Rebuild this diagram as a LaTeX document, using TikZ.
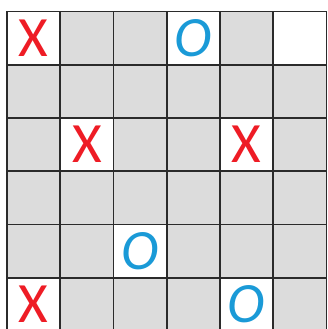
\documentclass[tikz,border=0pt]{standalone}
\usepackage{fontspec}
\newfontfamily\glyphfont{Carlito}
\definecolor{cellgray}{HTML}{DCDCDC}
\definecolor{xred}{HTML}{EE1C25}
\definecolor{oblue}{HTML}{1A9AD7}
\definecolor{gridline}{HTML}{2B2B2B}
\tikzset{
  cell/.style={draw=gridline, line width=1.6pt, minimum size=53.25pt, inner sep=0pt, outer sep=0pt, fill=cellgray},
  opencell/.style={cell, fill=white},
  xmark/.style={text=xred, inner sep=0pt, font=\glyphfont\fontsize{57}{57}\selectfont},
  omark/.style={text=oblue, inner sep=0pt, font=\glyphfont\itshape\fontsize{57}{57}\selectfont}
}
\begin{document}
\begin{tikzpicture}[x=1pt,y=-1pt]
\useasboundingbox (0,0) rectangle (327,329);
\fill[white] (0,0) rectangle (327,329);
\foreach \r in {0,...,5}{
  \foreach \c in {0,...,5}{
    \node[cell] (c\r\c) at ({7+53.25*(\c+0.5)},{11.5+53.25*(\r+0.5)}) {};
  }
}
\foreach \r/\c in {0/0,0/3,0/5,2/1,2/4,4/2,5/0,5/4}{
  \node[opencell] (w\r\c) at (c\r\c) {};
}
\node[xmark] (m00) at (w00) {X};
\node[omark] (m03) at (w03) {O};
\node[xmark] (m21) at (w21) {X};
\node[xmark] (m24) at (w24) {X};
\node[omark] (m42) at (w42) {O};
\node[xmark] (m50) at (w50) {X};
\node[omark] (m54) at (w54) {O};
\end{tikzpicture}
\end{document}
